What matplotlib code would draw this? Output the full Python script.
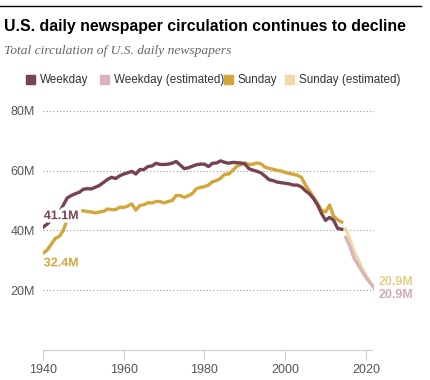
import numpy as np
import matplotlib.pyplot as plt
import matplotlib.patheffects as pe
from matplotlib.patches import Rectangle

# Total circulation (millions)
years = list(range(1940, 2015))
weekday = [41.1, 42.1, 43.4, 44.4, 45.9, 48.4, 50.9, 51.7, 52.3, 52.8,
           53.8, 54.0, 53.9, 54.5, 55.1, 56.1, 57.1, 57.8, 57.4, 58.3,
           58.9, 59.3, 59.8, 58.9, 60.4, 60.4, 61.4, 61.6, 62.5, 62.1,
           62.1, 62.2, 62.5, 63.1, 61.9, 60.7, 61.0, 61.5, 62.0, 62.2,
           62.2, 61.4, 62.5, 62.6, 63.3, 62.8, 62.5, 62.8, 62.7, 62.6,
           62.3, 60.7, 60.2, 59.8, 59.3, 58.2, 57.0, 56.7, 56.2, 56.0,
           55.8, 55.6, 55.2, 55.2, 54.6, 53.3, 52.3, 50.7, 48.6, 45.7,
           43.4, 44.4, 43.4, 40.7, 40.4]
sunday = [32.4, 33.4, 35.3, 37.3, 38.0, 39.9, 43.7, 45.2, 46.3, 46.4,
          46.6, 46.3, 46.2, 45.9, 46.2, 46.4, 47.2, 47.0, 47.0, 47.8,
          47.7, 48.2, 48.9, 46.8, 48.4, 48.6, 49.3, 49.2, 49.7, 49.7,
          49.2, 49.7, 50.0, 51.7, 51.7, 51.1, 51.6, 52.4, 54.0, 54.4,
          54.7, 55.2, 56.3, 56.7, 57.5, 58.8, 58.9, 60.1, 61.5, 62.0,
          62.6, 62.1, 62.2, 62.6, 62.3, 61.2, 60.8, 60.5, 60.1, 59.9,
          59.4, 59.1, 58.8, 58.5, 57.8, 55.3, 53.2, 51.2, 49.1, 46.8,
          46.2, 48.5, 44.8, 43.6, 42.8]

est_years = list(range(2015, 2023))
weekday_est = [37.7, 34.7, 30.9, 28.6, 26.4, 24.3, 22.5, 20.9]
sunday_est = [40.5, 37.2, 33.3, 30.5, 27.5, 25.0, 22.8, 20.9]

c_week = '#76434f'
c_week_est = '#d8b4bd'
c_sun = '#d3a63c'
c_sun_est = '#f0dba6'

fig = plt.figure(figsize=(4.31, 3.8), dpi=100)
ax = fig.add_axes([43/431, 30/380, 331/431, 245/380])

for y in [20, 40, 60, 80]:
    ax.axhline(y, color='#999999', lw=0.8, ls=(0, (1, 2)), zorder=1)

ax.plot(est_years, sunday_est, color=c_sun_est, lw=2.4, zorder=2)
ax.plot(est_years, weekday_est, color=c_week_est, lw=2.4, zorder=2)
ax.plot(years, sunday, color=c_sun, lw=2.4, zorder=3, solid_joinstyle='round')
ax.plot(years, weekday, color=c_week, lw=2.4, zorder=3, solid_joinstyle='round')

halo = [pe.withStroke(linewidth=5, foreground='white')]
ax.text(1940.2, 44.8, '41.1M', color=c_week, fontsize=9, fontweight='bold',
        family='Liberation Sans', va='center', ha='left', path_effects=halo, zorder=4)
ax.text(1940.2, 29.0, '32.4M', color=c_sun, fontsize=9, fontweight='bold',
        family='Liberation Sans', va='center', ha='left', path_effects=halo, zorder=4)
ax.text(2023.2, 22.8, '20.9M', color='#e9cd85', fontsize=9, fontweight='bold',
        family='Liberation Sans', va='center', ha='left', clip_on=False)
ax.text(2023.2, 18.3, '20.9M', color='#d3a9b5', fontsize=9, fontweight='bold',
        family='Liberation Sans', va='center', ha='left', clip_on=False)

ax.set_xlim(1940, 2022)
ax.set_ylim(0, 82)
ax.set_yticks([20, 40, 60, 80])
ax.set_yticklabels(['20M', '40M', '60M', '80M'])
ax.set_xticks([1940, 1960, 1980, 2000, 2020])
for s in ['top', 'right', 'left']:
    ax.spines[s].set_visible(False)
ax.spines['bottom'].set_color('#cccccc')
ax.spines['bottom'].set_bounds(1940, 2021.5)
ax.tick_params(axis='y', length=0, pad=6, labelsize=9, labelcolor='#555555')
ax.tick_params(axis='x', length=7, color='#cccccc', pad=3, labelsize=9, labelcolor='#555555')
for lab in ax.get_xticklabels() + ax.get_yticklabels():
    lab.set_family('Liberation Sans')

# header
fig.add_artist(plt.Line2D([0, 421/431], [1 - 6/380, 1 - 6/380], color='black', lw=1))
fig.text(4/431, 1 - 27/380, 'U.S. daily newspaper circulation continues to decline',
         fontsize=11.4, fontweight='bold', family='Liberation Sans', va='center', ha='left')
fig.text(4/431, 1 - 51/380, 'Total circulation of U.S. daily newspapers',
         fontsize=9.7, style='italic', family='Liberation Serif', color='#666666',
         va='center', ha='left')

legend_items = [('Weekday', c_week, 26), ('Weekday (estimated)', c_week_est, 100),
                ('Sunday', c_sun, 224), ('Sunday (estimated)', c_sun_est, 285)]
for label, col, x0 in legend_items:
    fig.add_artist(Rectangle((x0/431, 1 - 84/380), 9/431, 9/380,
                             transform=fig.transFigure, color=col))
    fig.text((x0 + 14)/431, 1 - 79.5/380, label, fontsize=8.4, family='Liberation Sans',
             color='#333333', va='center', ha='left')

fig.savefig('out.png', dpi=100)
